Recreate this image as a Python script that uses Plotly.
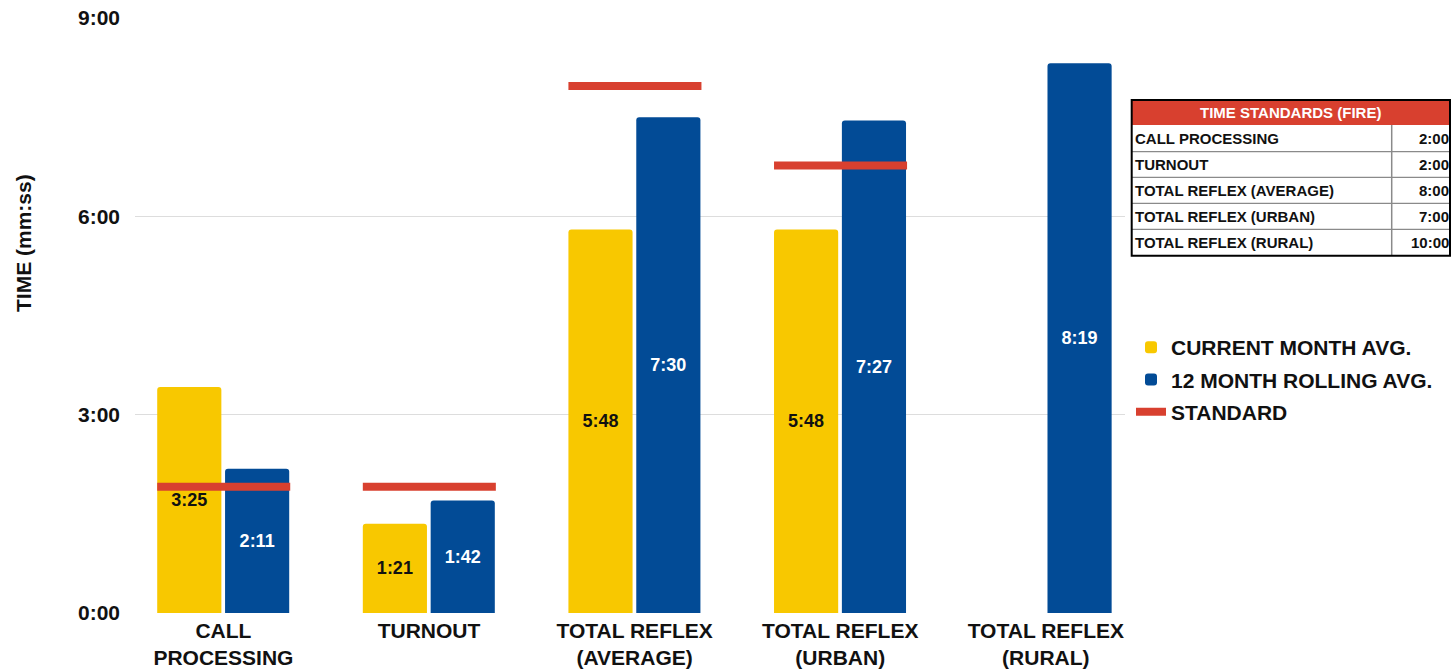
import plotly.graph_objects as go

categories = ["CALL<br>PROCESSING", "TURNOUT", "TOTAL REFLEX<br>(AVERAGE)", "TOTAL REFLEX<br>(URBAN)", "TOTAL REFLEX<br>(RURAL)"]
current_month = [3 + 25/60, 1 + 21/60, 5 + 48/60, 5 + 48/60, None]
current_labels = ["3:25", "1:21", "5:48", "5:48", ""]
rolling_12 = [2 + 11/60, 1 + 42/60, 7 + 30/60, 7 + 27/60, 8 + 19/60]
rolling_labels = ["2:11", "1:42", "7:30", "7:27", "8:19"]
standard_line = [1.91, 1.91, 7.97, 6.77, None]

y_tickvals = [0, 3, 6, 9]
y_ticktext = ["0:00", "3:00", "6:00", "9:00"]

table_title = "TIME STANDARDS (FIRE)"
table_names = ["CALL PROCESSING", "TURNOUT", "TOTAL REFLEX (AVERAGE)", "TOTAL REFLEX (URBAN)", "TOTAL REFLEX (RURAL)"]
table_values = ["2:00", "2:00", "8:00", "7:00", "10:00"]

YELLOW = "#F8C800"
BLUE = "#024B96"
RED = "#D8402F"
INK = "#111111"
FONT = "Liberation Sans"

W, H = 1454, 670
PX_L, PX_R, PX_T, PX_B = 135, 1125, 18, 613
PAPER_W = 1314


def pxx(x):
    return (x - PX_L) / PAPER_W


def pyy(y):
    return (PX_B - y) / (PX_B - PX_T)


xs = list(range(len(categories)))

fig = go.Figure()
fig.add_trace(go.Bar(
    x=xs, y=current_month, name="<b>CURRENT MONTH AVG.</b>", legendgroup="a",
    marker=dict(color=YELLOW, line=dict(width=0), cornerradius=3),
    offset=-0.322, width=0.312,
    text=current_labels, textposition="inside", insidetextanchor="middle",
    textfont=dict(color=INK, size=18, family=FONT, weight="bold"),
    textangle=0, hoverinfo="skip",
))
fig.add_trace(go.Bar(
    x=xs, y=rolling_12, name="<b>12 MONTH ROLLING AVG.</b>", legendgroup="b",
    marker=dict(color=BLUE, line=dict(width=0), cornerradius=3),
    offset=0.008, width=0.312,
    text=rolling_labels, textposition="inside", insidetextanchor="middle",
    textfont=dict(color="white", size=18, family=FONT, weight="bold"),
    textangle=0, hoverinfo="skip",
))

sx, sy = [], []
for i, v in enumerate(standard_line):
    if v is None:
        continue
    sx += [i - 0.322, i + 0.325, None]
    sy += [v, v, None]
fig.add_trace(go.Scatter(
    x=sx, y=sy, mode="lines", name="<b>STANDARD</b>", legendgroup="c",
    line=dict(color=RED, width=8), hoverinfo="skip",
))

# ---- standards table (shapes + annotations in paper coords) ----
T_L, T_R, T_T, T_B = 1131.7, 1450, 100, 255.7
H_B = 125
row_lines = [H_B, 151.7, 177.3, 203.3, 229.3, T_B]
COL_X = 1391.7
shapes = []
shapes.append(dict(type="rect", xref="paper", yref="paper",
                   x0=pxx(T_L), x1=pxx(T_R), y0=pyy(T_T), y1=pyy(H_B),
                   fillcolor=RED, line=dict(width=0), layer="above"))
for yl in row_lines[1:-1]:
    shapes.append(dict(type="line", xref="paper", yref="paper",
                       x0=pxx(T_L), x1=pxx(T_R), y0=pyy(yl), y1=pyy(yl),
                       line=dict(color="#8a8a8a", width=1.2)))
shapes.append(dict(type="line", xref="paper", yref="paper",
                   x0=pxx(COL_X), x1=pxx(COL_X), y0=pyy(H_B), y1=pyy(T_B),
                   line=dict(color="#8a8a8a", width=1.5)))
shapes.append(dict(type="rect", xref="paper", yref="paper",
                   x0=pxx(T_L), x1=pxx(T_R), y0=pyy(T_T), y1=pyy(T_B),
                   fillcolor="rgba(0,0,0,0)", line=dict(color="#000000", width=2)))

annotations = []
annotations.append(dict(text="<b>" + table_title + "</b>", xref="paper", yref="paper",
                        x=pxx((T_L + T_R) / 2), y=pyy((T_T + H_B) / 2),
                        xanchor="center", yanchor="middle", showarrow=False,
                        font=dict(size=15, color="white", family=FONT)))
for k, (name, val) in enumerate(zip(table_names, table_values)):
    yc = (row_lines[k] + row_lines[k + 1]) / 2
    annotations.append(dict(text="<b>" + name + "</b>", xref="paper", yref="paper",
                            x=pxx(T_L + 1), y=pyy(yc), xanchor="left", yanchor="middle",
                            showarrow=False, font=dict(size=15, color=INK, family=FONT)))
    annotations.append(dict(text="<b>" + val + "</b>", xref="paper", yref="paper",
                            x=pxx(T_R + 1), y=pyy(yc), xanchor="right", yanchor="middle",
                            showarrow=False, font=dict(size=15, color=INK, family=FONT)))

annotations.append(dict(
    text="<b>TIME (mm:ss)</b>", textangle=-90, xref="paper", yref="paper",
    x=pxx(23), y=pyy(243), xanchor="center", yanchor="middle", showarrow=False,
    font=dict(size=21, color=INK, family=FONT),
))

fig.update_layout(
    width=W, height=H,
    margin=dict(l=PX_L, r=W - PX_L - PAPER_W, t=PX_T, b=H - PX_B, autoexpand=False),
    paper_bgcolor="white", plot_bgcolor="white",
    barmode="overlay",
    showlegend=True,
    shapes=shapes, annotations=annotations,
    legend=dict(
        x=pxx(1131), y=pyy(327), xanchor="left", yanchor="top",
        font=dict(size=21, color=INK, family=FONT),
        bgcolor="rgba(0,0,0,0)", itemwidth=30, tracegroupgap=2,
    ),
    xaxis=dict(
        domain=[0, (PX_R - PX_L) / PAPER_W], range=[-0.43, 4.385],
        tickmode="array", tickvals=xs, ticktext=categories,
        tickfont=dict(size=21, color=INK, family=FONT, weight="bold"),
        showgrid=False, zeroline=False, showline=False, ticks="",
        ticklabelstandoff=3, automargin=False,
    ),
    yaxis=dict(
        range=[0, 9.0], tickmode="array", tickvals=y_tickvals, ticktext=y_ticktext,
        tickfont=dict(size=21, color=INK, family=FONT, weight="bold"),
        showgrid=True, gridcolor="#DDDDDD", gridwidth=1,
        zeroline=False, showline=False, ticks="", ticklabelstandoff=14,
        ticklabeloverflow="allow", automargin=False,
    ),
)

fig.write_html(
    "out.html",
    config={"displayModeBar": False},
    post_script="document.body.style.margin='0';document.documentElement.style.overflow='hidden';document.body.style.overflow='hidden';",
)
